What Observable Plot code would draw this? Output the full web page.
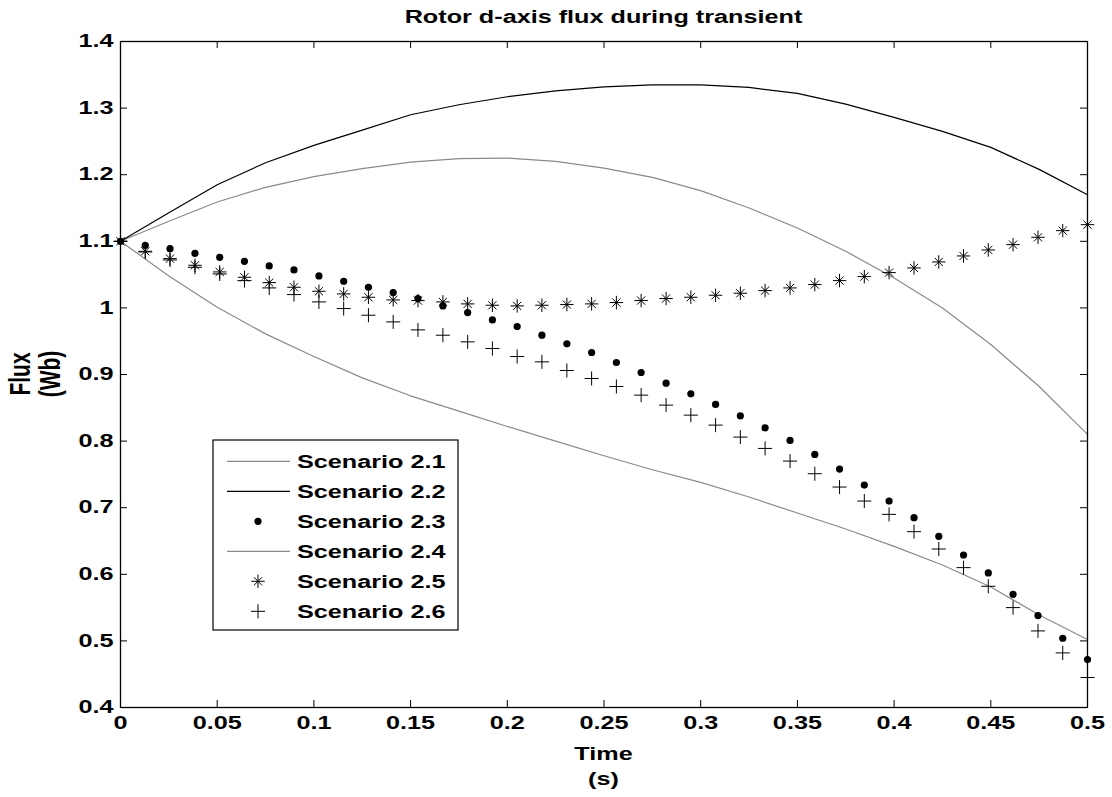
<!DOCTYPE html>
<html><head><meta charset="utf-8">
<script src="https://cdn.jsdelivr.net/npm/d3@7"></script>
<script src="https://cdn.jsdelivr.net/npm/@observablehq/plot@0.6"></script>
<style>html,body{margin:0;padding:0;background:#fff;}</style>
</head><body><div id="chart"></div>
<script>
const title = "Rotor d-axis flux during transient";
const xLabelLines = ["Time", "(s)"];
const yLabelLines = ["Flux", "(Wb)"];
const seriesNames = ["Scenario 2.1", "Scenario 2.2", "Scenario 2.3", "Scenario 2.4", "Scenario 2.5", "Scenario 2.6"];

const xTicks = [0, 0.05, 0.1, 0.15, 0.2, 0.25, 0.3, 0.35, 0.4, 0.45, 0.5];
const xTickLabels = ["0", "0.05", "0.1", "0.15", "0.2", "0.25", "0.3", "0.35", "0.4", "0.45", "0.5"];
const yTicks = [0.4, 0.5, 0.6, 0.7, 0.8, 0.9, 1.0, 1.1, 1.2, 1.3, 1.4];
const yTickLabels = ["0.4", "0.5", "0.6", "0.7", "0.8", "0.9", "1", "1.1", "1.2", "1.3", "1.4"];

// line series (sampled every 0.025 s)
const tLine = [0, 0.025, 0.05, 0.075, 0.1, 0.125, 0.15, 0.175, 0.2, 0.225, 0.25, 0.275, 0.3, 0.325, 0.35, 0.375, 0.4, 0.425, 0.45, 0.475, 0.5];
const s21 = [1.1, 1.130, 1.159, 1.181, 1.197, 1.209, 1.219, 1.224, 1.225, 1.220, 1.210, 1.196, 1.176, 1.150, 1.120, 1.085, 1.045, 1.000, 0.945, 0.882, 0.810];
const s22 = [1.1, 1.143, 1.185, 1.218, 1.244, 1.267, 1.290, 1.305, 1.317, 1.326, 1.332, 1.335, 1.335, 1.331, 1.322, 1.306, 1.286, 1.265, 1.241, 1.208, 1.170];
const s24 = [1.1, 1.048, 1.001, 0.961, 0.927, 0.895, 0.868, 0.845, 0.822, 0.800, 0.778, 0.757, 0.738, 0.716, 0.692, 0.668, 0.642, 0.614, 0.581, 0.539, 0.502];

// marker series (40 samples)
const tMark = [0, 0.0128, 0.0256, 0.0385, 0.0513, 0.0641, 0.0769, 0.0897, 0.1026, 0.1154,
  0.1282, 0.1410, 0.1538, 0.1667, 0.1795, 0.1923, 0.2051, 0.2179, 0.2308, 0.2436,
  0.2564, 0.2692, 0.2821, 0.2949, 0.3077, 0.3205, 0.3333, 0.3462, 0.3590, 0.3718,
  0.3846, 0.3974, 0.4103, 0.4231, 0.4359, 0.4487, 0.4615, 0.4744, 0.4872, 0.5];
const s23 = [1.1, 1.094, 1.089, 1.082, 1.076, 1.070, 1.063, 1.057, 1.048, 1.040,
  1.031, 1.023, 1.014, 1.003, 0.993, 0.982, 0.972, 0.959, 0.946, 0.933,
  0.918, 0.903, 0.887, 0.871, 0.855, 0.838, 0.820, 0.801, 0.780, 0.758,
  0.734, 0.710, 0.685, 0.657, 0.629, 0.602, 0.570, 0.538, 0.504, 0.472];
const s25 = [1.1, 1.085, 1.074, 1.064, 1.054, 1.046, 1.038, 1.031, 1.025, 1.021,
  1.016, 1.012, 1.011, 1.009, 1.006, 1.004, 1.003, 1.004, 1.005, 1.006,
  1.008, 1.011, 1.014, 1.016, 1.019, 1.022, 1.026, 1.030, 1.035, 1.041,
  1.047, 1.053, 1.060, 1.069, 1.078, 1.087, 1.095, 1.106, 1.116, 1.125];
const s26 = [1.1, 1.084, 1.072, 1.061, 1.051, 1.041, 1.030, 1.020, 1.009, 0.999,
  0.989, 0.979, 0.967, 0.959, 0.949, 0.939, 0.927, 0.919, 0.906, 0.894,
  0.882, 0.869, 0.854, 0.839, 0.824, 0.806, 0.789, 0.770, 0.751, 0.731,
  0.710, 0.690, 0.664, 0.638, 0.610, 0.582, 0.550, 0.515, 0.482, 0.445];

const W = 1112, H = 797, mL = 120, mR = 25, mT = 41, mB = 90;
const innerW = W - mL - mR, innerH = H - mT - mB;
const tickLen = 7;
const gray = "#8a8a8a";
const FONT = "'Liberation Sans', Arial, Helvetica, sans-serif";
const STRETCH = 1.4;

const lineOf = (vals) => tLine.map((t, i) => ({t, v: vals[i]}));
const markOf = (vals) => tMark.map((t, i) => ({t, v: vals[i]}));
const xFmt = new Map(xTicks.map((d, i) => [d.toFixed(3), xTickLabels[i]]));
const yFmt = new Map(yTicks.map((d, i) => [d.toFixed(3), yTickLabels[i]]));

const chart = Plot.plot({
  width: W, height: H,
  marginLeft: mL, marginRight: mR, marginTop: mT, marginBottom: mB,
  x: {domain: [0, 0.5], label: null},
  y: {domain: [0.4, 1.4], label: null},
  style: {fontFamily: FONT, fontSize: "18px", fontWeight: "bold", background: "white", color: "black", overflow: "visible"},
  marks: [
    Plot.tickX(xTicks, {x: d => d, insetTop: innerH - tickLen, stroke: "black", strokeWidth: 1}),
    Plot.tickX(xTicks, {x: d => d, insetBottom: innerH - tickLen, stroke: "black", strokeWidth: 1}),
    Plot.tickY(yTicks, {y: d => d, insetRight: innerW - tickLen, stroke: "black", strokeWidth: 1}),
    Plot.tickY(yTicks, {y: d => d, insetLeft: innerW - tickLen, stroke: "black", strokeWidth: 1}),
    Plot.axisX({ticks: xTicks, tickSize: 0, tickPadding: 9, label: null, tickFormat: d => xFmt.get((+d).toFixed(3))}),
    Plot.axisY({ticks: yTicks, tickSize: 0, tickPadding: 7, label: null, tickFormat: d => yFmt.get((+d).toFixed(3))}),
    Plot.line(lineOf(s21), {x: "t", y: "v", stroke: gray, strokeWidth: 1.2}),
    Plot.line(lineOf(s24), {x: "t", y: "v", stroke: gray, strokeWidth: 1.2}),
    Plot.line(lineOf(s22), {x: "t", y: "v", stroke: "black", strokeWidth: 1.2}),
    Plot.dot(markOf(s23), {x: "t", y: "v", r: 3.6, fill: "black", stroke: "none"}),
    Plot.dot(markOf(s25), {x: "t", y: "v", symbol: "plus", r: 4.4, stroke: "black", strokeWidth: 1}),
    Plot.dot(markOf(s25), {x: "t", y: "v", symbol: "times", r: 3.8, stroke: "black", strokeWidth: 1}),
    Plot.dot(markOf(s26), {x: "t", y: "v", symbol: "plus", r: 4.6, stroke: "black", strokeWidth: 1}),
    Plot.frame({stroke: "black", strokeWidth: 1.3})
  ]
});
document.getElementById("chart").append(chart);
const svg = d3.select(chart);

// title and x-axis label
svg.append("text").attr("x", mL + innerW / 2).attr("y", 22.5).attr("text-anchor", "middle").attr("fill", "black").text(title);
svg.append("text").attr("x", mL + innerW / 2).attr("y", 760).attr("text-anchor", "middle").attr("fill", "black").text(xLabelLines[0]);
svg.append("text").attr("x", mL + innerW / 2).attr("y", 785).attr("text-anchor", "middle").attr("fill", "black").text(xLabelLines[1]);

// legend
const lg = svg.append("g");
const lx0 = 213, ly0 = 440, lx1 = 458, ly1 = 630;
lg.append("rect").attr("x", lx0).attr("y", ly0).attr("width", lx1 - lx0).attr("height", ly1 - ly0)
  .attr("fill", "white").attr("stroke", "black").attr("stroke-width", 1.2);
const kinds = ["line-gray", "line-black", "dot", "line-gray", "star", "plus"];
seriesNames.forEach((name, i) => {
  const base = 468.3 + i * 30;
  const cy = base - 7;
  const k = kinds[i];
  if (k.startsWith("line")) {
    lg.append("line").attr("x1", 227).attr("x2", 290).attr("y1", cy).attr("y2", cy)
      .attr("stroke", k === "line-gray" ? gray : "black").attr("stroke-width", 1.2);
  } else if (k === "dot") {
    lg.append("circle").attr("cx", 258).attr("cy", cy).attr("r", 3.6).attr("fill", "black");
  } else {
    const syms = k === "star" ? [[d3.symbolPlus, 4.4], [d3.symbolTimes, 3.8]] : [[d3.symbolPlus, 4.6]];
    syms.forEach(([s, r]) => lg.append("path").attr("transform", `translate(258,${cy})`)
      .attr("d", d3.symbol(s, Math.PI * r * r)()).attr("fill", "none").attr("stroke", "black").attr("stroke-width", 1));
  }
  lg.append("text").attr("x", 297).attr("y", base).attr("text-anchor", "start").attr("fill", "black").text(name);
});

// horizontal stretch of all upright text (the reference glyphs are wide)
svg.selectAll("text").each(function () {
  const L = this.getComputedTextLength();
  if (L > 0) {
    this.setAttribute("textLength", L * STRETCH);
    this.setAttribute("lengthAdjust", "spacingAndGlyphs");
  }
});

// rotated y label
[[yLabelLines[0], 30], [yLabelLines[1], 60]].forEach(([txt, x]) => {
  svg.append("text").attr("transform", `translate(${x},${mT + innerH / 2}) scale(${STRETCH},1) rotate(-90)`)
    .attr("text-anchor", "middle").attr("font-size", 21).attr("fill", "black").text(txt);
});
</script>
</body></html>
